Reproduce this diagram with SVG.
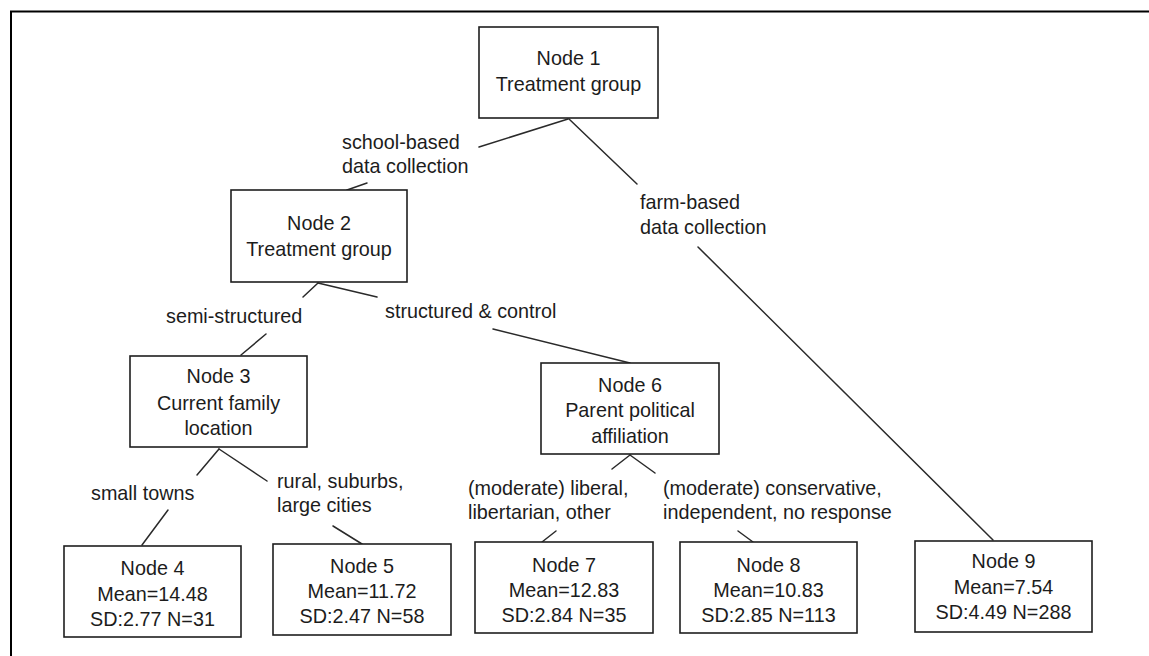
<svg xmlns="http://www.w3.org/2000/svg" width="1149" height="656" viewBox="0 0 1149 656">
<style>
  text { font-family: "Liberation Sans", Arial, sans-serif; font-size: 19.8px; fill: #1c1c1c; }
  .c { text-anchor: middle; }
  .box { fill: #ffffff; stroke: #1e1e1e; stroke-width: 1.6; }
  .edge { stroke: #2a2a2a; stroke-width: 1.5; fill: none; stroke-linecap: round; }
</style>
<rect x="0" y="0" width="1149" height="656" fill="#ffffff"/>
<rect x="11" y="11.5" width="1150" height="660" fill="none" stroke="#000000" stroke-width="2"/>

<g id="connectors">
  <line class="edge" x1="568" y1="119" x2="479" y2="147"/>
  <line class="edge" x1="367" y1="183" x2="347" y2="190"/>
  <line class="edge" x1="569" y1="119" x2="637" y2="184"/>
  <line class="edge" x1="698" y1="247" x2="993" y2="540"/>
  <line class="edge" x1="318" y1="283" x2="303" y2="297"/>
  <line class="edge" x1="266" y1="334" x2="241" y2="355"/>
  <line class="edge" x1="318" y1="283" x2="377" y2="297"/>
  <line class="edge" x1="493" y1="329" x2="630" y2="363"/>
  <line class="edge" x1="219" y1="449" x2="197" y2="475"/>
  <line class="edge" x1="168" y1="510" x2="142" y2="545"/>
  <line class="edge" x1="219" y1="449" x2="267" y2="481"/>
  <line class="edge" x1="333" y1="526" x2="362" y2="544"/>
  <line class="edge" x1="630" y1="455" x2="612" y2="469"/>
  <line class="edge" x1="556" y1="531" x2="542" y2="542"/>
  <line class="edge" x1="630" y1="455" x2="655" y2="473"/>
  <line class="edge" x1="738" y1="531" x2="753" y2="542"/>
</g>

<g id="edge-labels">
  <text x="342" y="149">school-based</text>
  <text x="342" y="173">data collection</text>
  <text x="640" y="209">farm-based</text>
  <text x="640" y="234">data collection</text>
  <text x="166" y="323">semi-structured</text>
  <text x="385" y="318">structured &amp; control</text>
  <text x="91" y="500">small towns</text>
  <text x="277" y="488">rural, suburbs,</text>
  <text x="277" y="512">large cities</text>
  <text x="468" y="495">(moderate) liberal,</text>
  <text x="468" y="519">libertarian, other</text>
  <text x="663" y="495">(moderate) conservative,</text>
  <text x="663" y="519">independent, no response</text>
</g>

<g id="node1">
  <rect class="box" x="479" y="27" width="179" height="91"/>
  <text class="c" x="568.5" y="65">Node 1</text>
  <text class="c" x="568.5" y="91">Treatment group</text>
</g>
<g id="node2">
  <rect class="box" x="231" y="190" width="176" height="92"/>
  <text class="c" x="319" y="230">Node 2</text>
  <text class="c" x="319" y="256">Treatment group</text>
</g>
<g id="node3">
  <rect class="box" x="130" y="356" width="177" height="91"/>
  <text class="c" x="218.5" y="383">Node 3</text>
  <text class="c" x="218.5" y="410">Current family</text>
  <text class="c" x="218.5" y="435">location</text>
</g>
<g id="node4">
  <rect class="box" x="64" y="546" width="177" height="91"/>
  <text class="c" x="152.5" y="575">Node 4</text>
  <text class="c" x="152.5" y="601">Mean=14.48</text>
  <text class="c" x="152.5" y="626">SD:2.77 N=31</text>
</g>
<g id="node5">
  <rect class="box" x="273" y="544" width="178" height="91"/>
  <text class="c" x="362" y="573">Node 5</text>
  <text class="c" x="362" y="598">Mean=11.72</text>
  <text class="c" x="362" y="623">SD:2.47 N=58</text>
</g>
<g id="node6">
  <rect class="box" x="541" y="363" width="178" height="91"/>
  <text class="c" x="630" y="392">Node 6</text>
  <text class="c" x="630" y="417">Parent political</text>
  <text class="c" x="630" y="443">affiliation</text>
</g>
<g id="node7">
  <rect class="box" x="475" y="542" width="178" height="91"/>
  <text class="c" x="564" y="572">Node 7</text>
  <text class="c" x="564" y="597">Mean=12.83</text>
  <text class="c" x="564" y="622">SD:2.84 N=35</text>
</g>
<g id="node8">
  <rect class="box" x="680" y="542" width="177" height="91"/>
  <text class="c" x="768.5" y="572">Node 8</text>
  <text class="c" x="768.5" y="597">Mean=10.83</text>
  <text class="c" x="768.5" y="622">SD:2.85 N=113</text>
</g>
<g id="node9">
  <rect class="box" x="915" y="541" width="177" height="91"/>
  <text class="c" x="1003.5" y="568">Node 9</text>
  <text class="c" x="1003.5" y="594">Mean=7.54</text>
  <text class="c" x="1003.5" y="619">SD:4.49 N=288</text>
</g>
</svg>
